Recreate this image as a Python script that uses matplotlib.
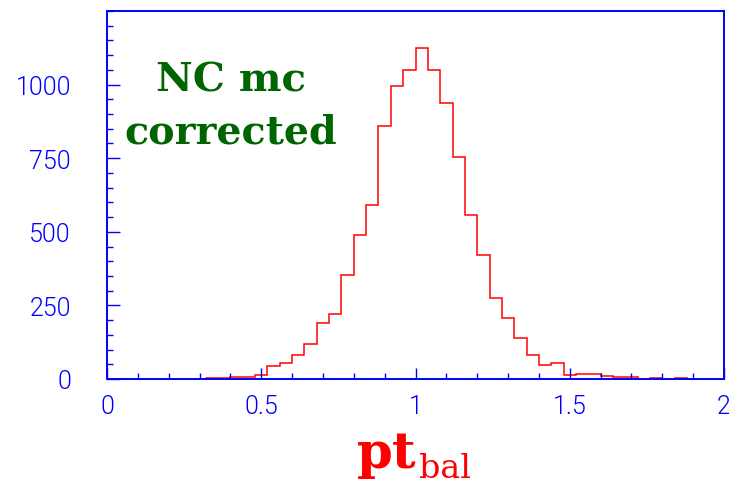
import numpy as np
import matplotlib
matplotlib.use("Agg")
import matplotlib.pyplot as plt
from matplotlib.ticker import MultipleLocator

# pt balance histogram, 50 bins from 0 to 2
counts = [0, 0, 0, 0, 0, 0, 0, 1, 4, 4,
          7, 7, 12, 45, 55, 80, 118, 190, 220, 352,
          488, 591, 859, 994, 1048, 1124, 1048, 937, 754, 558,
          420, 276, 208, 140, 80, 47, 53, 15, 18, 18,
          11, 8, 8, 1, 3, 1, 3, 0, 0, 0]
edges = np.linspace(0, 2, len(counts) + 1)
xticks = [0, 0.5, 1, 1.5, 2]
xticklabels = ["0", "0.5", "1", "1.5", "2"]
yticks = [0, 250, 500, 750, 1000]

blue = "#0000ff"
W, H = 729, 485

fig = plt.figure(figsize=(W / 100, H / 100), dpi=100)
ax = fig.add_axes([107 / W, 1 - 380 / H, 617 / W, 368 / H])

ax.stairs(counts, edges, color="#ff0000", lw=1.1)

ax.set_xlim(0, 2)
ax.set_ylim(0, 1250)
ax.set_xticks(xticks)
ax.set_xticklabels(xticklabels)
ax.set_yticks(yticks)
ax.xaxis.set_minor_locator(MultipleLocator(0.1))
ax.yaxis.set_minor_locator(MultipleLocator(50))

for s in ax.spines.values():
    s.set_color(blue)
    s.set_linewidth(1.4)

ax.tick_params(which="both", direction="in", colors=blue, top=False, right=False, width=1)
ax.tick_params(axis="y", which="major", length=9, pad=26, labelsize=18)
ax.tick_params(axis="y", which="minor", length=4.5)
ax.tick_params(axis="x", which="major", length=8, pad=11, labelsize=18)
ax.tick_params(axis="x", which="minor", length=4)
for lab in ax.get_xticklabels() + ax.get_yticklabels():
    lab.set_family("Roboto")
    lab.set_weight(300)
    lab.set_color(blue)

# axis title pt_bal
fig.text(417 / W, 1 - 468 / H, "pt", color="#ff0000", family="DejaVu Serif",
         weight="bold", fontsize=37, ha="right", va="baseline")
fig.text(419 / W, 1 - 478 / H, "bal", color="#ff0000", family="DejaVu Serif",
         fontsize=24, ha="left", va="baseline")

# annotation
green = "#006400"
fig.text(231 / W, 1 - 91 / H, "NC mc", color=green, family="DejaVu Serif",
         weight="bold", fontsize=29, ha="center", va="baseline")
fig.text(231 / W, 1 - 144 / H, "corrected", color=green, family="DejaVu Serif",
         weight="bold", fontsize=28.5, ha="center", va="baseline")

fig.savefig("out.png", dpi=100)
